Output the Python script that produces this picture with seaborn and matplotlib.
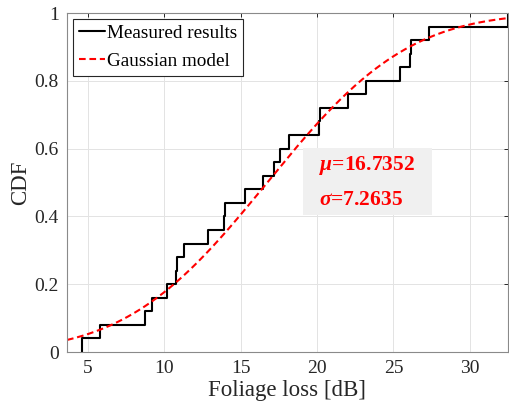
import math
import numpy as np
import pandas as pd
import matplotlib
matplotlib.use('Agg')
import matplotlib.pyplot as plt
from matplotlib.patches import Rectangle
import seaborn as sns

# measured foliage loss samples (dB), read from the step positions
foliage_loss = [4.61, 5.81, 8.73, 9.19, 10.15, 10.76, 10.85, 11.25, 12.87,
                13.90, 13.96, 15.30, 16.43, 17.17, 17.58, 18.17, 20.10, 20.20,
                22.04, 23.17, 25.42, 26.07, 26.15, 27.33, 32.50]

# fitted Gaussian model parameters shown in the chart
mu = 16.7352
sigma = 7.2635

x_ticks = [5, 10, 15, 20, 25, 30]
y_ticks = [0, 0.2, 0.4, 0.6, 0.8, 1]
y_tick_labels = ['0', '0.2', '0.4', '0.6', '0.8', '1']

x_min, x_max = 3.62, 32.5

# Gaussian model CDF evaluated on the plotted range
x_model = np.linspace(x_min, x_max, 300)
model_df = pd.DataFrame({
    'x': x_model,
    'cdf': [0.5 * (1 + math.erf((v - mu) / (sigma * math.sqrt(2)))) for v in x_model],
})

sns.set_style('white')
plt.rcParams['font.family'] = ['Liberation Serif', 'DejaVu Serif']
plt.rcParams['mathtext.fontset'] = 'custom'
plt.rcParams['mathtext.rm'] = 'Liberation Serif:bold'
plt.rcParams['mathtext.it'] = 'Liberation Serif:italic:bold'
plt.rcParams['mathtext.bf'] = 'Liberation Serif:bold'

dark = '#262626'

fig = plt.figure(figsize=(5.09, 4.11), dpi=100)
ax = fig.add_axes([67 / 509, 59 / 411, 441 / 509, 339 / 411])

ax.grid(True, color='#e3e3e3', linewidth=0.7)
ax.set_axisbelow(True)

sns.ecdfplot(x=foliage_loss, ax=ax, color='black', linewidth=1.5,
             label='Measured results')
sns.lineplot(data=model_df, x='x', y='cdf', ax=ax, color='red',
             linewidth=1.5, linestyle=(0, (3.2, 1.8)), label='Gaussian model')

ax.set_xlim(x_min, x_max)
ax.set_ylim(0, 1)
ax.set_xticks(x_ticks)
ax.set_yticks(y_ticks)
ax.set_yticklabels(y_tick_labels)

ax.tick_params(direction='in', length=3, width=0.7, colors=dark,
               labelsize=14, top=True, right=True, pad=6)
for sp in ax.spines.values():
    sp.set_color('#8a8a8a')
    sp.set_linewidth(0.8)

ax.set_xlabel('Foliage loss [dB]', fontsize=16.5, color=dark, labelpad=2)
ax.set_ylabel('CDF', fontsize=16.5, color=dark, labelpad=2)

# parameter box
ax.add_patch(Rectangle((19.05, 0.404), 8.5, 0.197, facecolor='#f0f0f0',
                       edgecolor='none', zorder=1.5))
ax.text(20.1, 0.549, r'$\mu$=16.7352', color='red', fontsize=15.5,
        fontweight='bold', va='center', ha='left', zorder=3)
ax.text(20.1, 0.449, r'$\sigma$=7.2635', color='red', fontsize=15.5,
        fontweight='bold', va='center', ha='left', zorder=3)

leg = ax.legend(loc='upper left', fontsize=13.8, frameon=True, fancybox=False,
                borderpad=0.3, borderaxespad=0.3, handlelength=1.4,
                handletextpad=0.1, labelspacing=0.55)
leg.get_frame().set_edgecolor(dark)
leg.get_frame().set_linewidth(0.8)
leg.get_frame().set_alpha(1)
for t in leg.get_texts():
    t.set_color('black')

fig.savefig('out.png', dpi=100)
